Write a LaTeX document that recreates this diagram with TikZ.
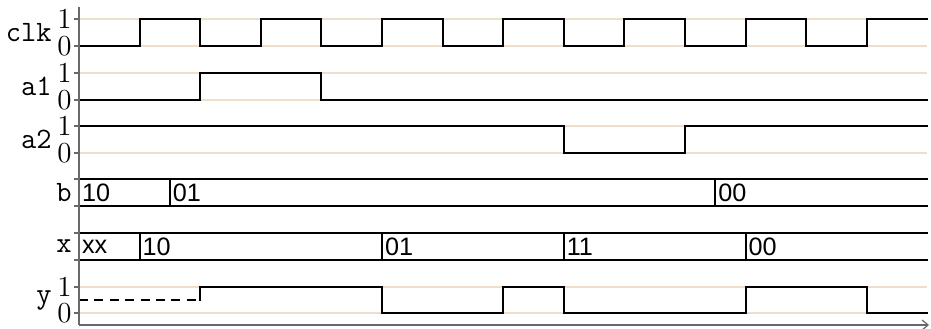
\documentclass[tikz,border=0pt]{standalone}
\usepackage{fontspec}
\newfontfamily\busfont{Liberation Sans}
\usetikzlibrary{arrows.meta}
\definecolor{gridc}{RGB}{240,222,204}
\definecolor{axisc}{RGB}{105,105,105}
\begin{document}
\begin{tikzpicture}[x=0.5pt,y=-0.5pt,
  sig/.style={line width=1pt, line join=miter, line cap=rect},
  gridl/.style={gridc, line width=0.55pt},
  axisl/.style={axisc, line width=0.6pt},
  tickl/.style={axisc, line width=0.6pt},
  sname/.style={anchor=east, inner sep=0pt, font=\fontsize{14.8}{17}\ttfamily},
  lvl/.style={anchor=east, inner sep=0pt, font=\fontsize{14.5}{17}\selectfont},
  busval/.style={anchor=west, inner sep=0pt, xshift=1.3pt, font=\fontsize{12.6}{15}\busfont}]
\useasboundingbox (0,0) rectangle (931,328);

% grid lines
\foreach \L in {19,46,73,100,126,153,287,313}
  \draw[gridl] (79,\L) -- (927,\L);

% ticks
\foreach \L in {19,46,73,100,126,153,179,206,233,260,287,313}
  \draw[tickl] (74,\L) -- (79,\L);

% signal names
\node[sname] (nclk) at (52,32.5) {clk};
\node[sname] (na1) at (52,86.5) {a1};
\node[sname] (na2) at (52,139.5) {a2};
\node[sname] (nb) at (72,192.5) {b};
\node[sname] (nx) at (72,246.5) {x};
\node[sname] (ny) at (52,300) {y};

% level labels
\node[lvl] (clk1) at (72,19) {1};
\node[lvl] (clk0) at (72,46) {0};
\node[lvl] (a11) at (72,73) {1};
\node[lvl] (a10) at (72,100) {0};
\node[lvl] (a21) at (72,126) {1};
\node[lvl] (a20) at (72,153) {0};
\node[lvl] (y1) at (72,287) {1};
\node[lvl] (y0) at (72,313) {0};

\begin{scope}[xshift=39.5pt, x=30.3pt]
  % clk
  \draw[sig] (0,46) -| (1,19) -| (2,46) -| (3,19) -| (4,46) -| (5,19) -| (6,46)
    -| (7,19) -| (8,46) -| (9,19) -| (10,46) -| (11,19) -| (12,46) -| (13,19) -- (14,19);
  % a1
  \draw[sig] (0,100) -| (2,73) -| (4,100) -- (14,100);
  % a2
  \draw[sig] (0,126) -| (8,153) -| (10,126) -- (14,126);
  % b bus
  \draw[sig] (0,179) -- (14,179);
  \draw[sig] (0,206) -- (14,206);
  \draw[sig] (1.5,179) -- (1.5,206);
  \draw[sig] (10.5,179) -- (10.5,206);
  \node[busval] (b0) at (0,192.5) {10};
  \node[busval] (b1) at (1.5,192.5) {01};
  \node[busval] (b2) at (10.5,192.5) {00};
  % x bus
  \draw[sig] (0,233) -- (14,233);
  \draw[sig] (0,260) -- (14,260);
  \foreach \t in {1,5,8,11}
    \draw[sig] (\t,233) -- (\t,260);
  \node[busval] (x0) at (0,246.5) {xx};
  \node[busval] (x1) at (1,246.5) {10};
  \node[busval] (x2) at (5,246.5) {01};
  \node[busval] (x3) at (8,246.5) {11};
  \node[busval] (x4) at (11,246.5) {00};
  % y
  \draw[sig, line cap=butt, dash pattern=on 4.5pt off 3.2pt] (0,300) -- (2,300);
  \draw[sig] (2,300) -- (2,287) -| (5,313) -| (7,287) -| (8,313) -| (11,287) -| (13,313) -- (14,313);
\end{scope}

% axes
\coordinate (ytop) at (79,7);
\coordinate (origin) at (79,325);
\coordinate (xend) at (929,325);
\draw[axisl] (ytop) -- (origin);
\draw[axisl, -{Straight Barb[length=3pt,width=5pt]}] (origin) -- (xend);
\end{tikzpicture}
\end{document}
